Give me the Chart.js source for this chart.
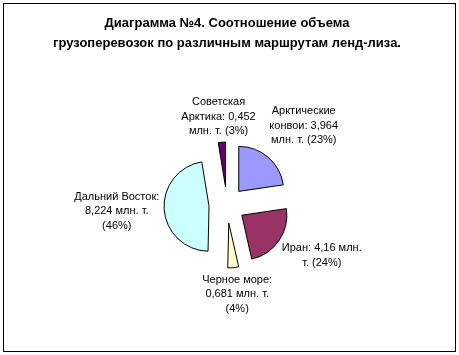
<!DOCTYPE html>
<html><head><meta charset="utf-8">
<script src="https://cdn.jsdelivr.net/npm/chart.js@4/dist/chart.umd.min.js"></script>
<style>html,body{margin:0;padding:0;background:#fff}#wrap{width:459px;height:355px;position:relative}</style>
</head><body><div id="wrap"><canvas id="c" width="459" height="355"></canvas></div>
<script>
// ---- data ----
const categories = ['Арктические конвои', 'Иран', 'Черное море', 'Дальний Восток', 'Советская Арктика'];
const values = [3.964, 4.16, 0.681, 8.224, 0.452];
const percentLabels = ['23%', '24%', '4%', '46%', '3%'];
const labelLines = [
  ['Арктические', 'конвои: 3,964', 'млн. т. (23%)'],
  ['Иран: 4,16 млн.', 'т. (24%)'],
  ['Черное море:', '0,681 млн. т.', '(4%)'],
  ['Дальний Восток:', '8,224 млн. т.', '(46%)'],
  ['Советская', 'Арктика: 0,452', 'млн. т. (3%)']
];
const titleLines = ['Диаграмма №4. Соотношение объема', 'грузоперевозок по различным маршрутам ленд-лиза.'];

// ---- style ----
const sliceColors = ['#9999FF', '#993366', '#FFFFCC', '#CCFFFF', '#660066'];
const FONT = '"Liberation Sans", Arial, sans-serif';
const RADIUS = 45;
const EXPLODE = 18;
const LABEL_LH = 14.5;
const labelGap = [20, 12, 5, 5, 4];

const framePlugin = {
  id: 'frame',
  beforeDraw(chart) {
    const ctx = chart.ctx;
    ctx.save();
    ctx.fillStyle = '#fff';
    ctx.fillRect(0, 0, chart.width, chart.height);
    ctx.strokeStyle = '#000';
    ctx.lineWidth = 1;
    ctx.strokeRect(3.5, 3.5, 452, 348);
    ctx.restore();
  }
};

const explodePlugin = {
  id: 'explode',
  beforeDatasetDraw(chart, args) {
    const ctx = chart.ctx;
    args.meta.data.forEach(arc => {
      const mid = (arc.startAngle + arc.endAngle) / 2;
      ctx.save();
      ctx.translate(Math.cos(mid) * EXPLODE, Math.sin(mid) * EXPLODE);
      arc.draw(ctx);
      ctx.restore();
    });
    return false;
  }
};

const labelPlugin = {
  id: 'sliceLabels',
  afterDatasetsDraw(chart) {
    const ctx = chart.ctx;
    const meta = chart.getDatasetMeta(0);
    ctx.save();
    ctx.font = '11px ' + FONT;
    ctx.fillStyle = '#000';
    ctx.textAlign = 'center';
    ctx.textBaseline = 'middle';
    meta.data.forEach((arc, i) => {
      const p = arc.getProps(['x', 'y', 'startAngle', 'endAngle', 'outerRadius'], true);
      const mid = (p.startAngle + p.endAngle) / 2;
      const ux = Math.cos(mid), uy = Math.sin(mid);
      const lines = labelLines[i];
      const w = Math.max(...lines.map(l => ctx.measureText(l).width));
      const h = lines.length * LABEL_LH;
      const d = p.outerRadius + EXPLODE + labelGap[i];
      const bx = p.x + ux * d + ux * w / 2;
      const by = p.y + uy * d + uy * h / 2;
      lines.forEach((l, k) => ctx.fillText(l, bx, by - h / 2 + LABEL_LH * (k + 0.5)));
    });
    ctx.restore();
  }
};

new Chart(document.getElementById('c'), {
  type: 'pie',
  data: {
    labels: categories,
    datasets: [{
      data: values,
      backgroundColor: sliceColors,
      borderColor: '#000',
      borderWidth: 1
    }]
  },
  options: {
    responsive: false,
    animation: false,
    devicePixelRatio: 1,
    radius: RADIUS,
    layout: { padding: { left: 0, right: 5, top: 0, bottom: 8 } },
    plugins: {
      legend: { display: false },
      tooltip: { enabled: false },
      title: {
        display: true,
        text: titleLines,
        color: '#000',
        font: { family: FONT, size: 13, weight: 'bold', lineHeight: 20 / 13 },
        padding: { top: 13, bottom: 10 }
      }
    }
  },
  plugins: [framePlugin, explodePlugin, labelPlugin]
});
</script>
</body></html>
